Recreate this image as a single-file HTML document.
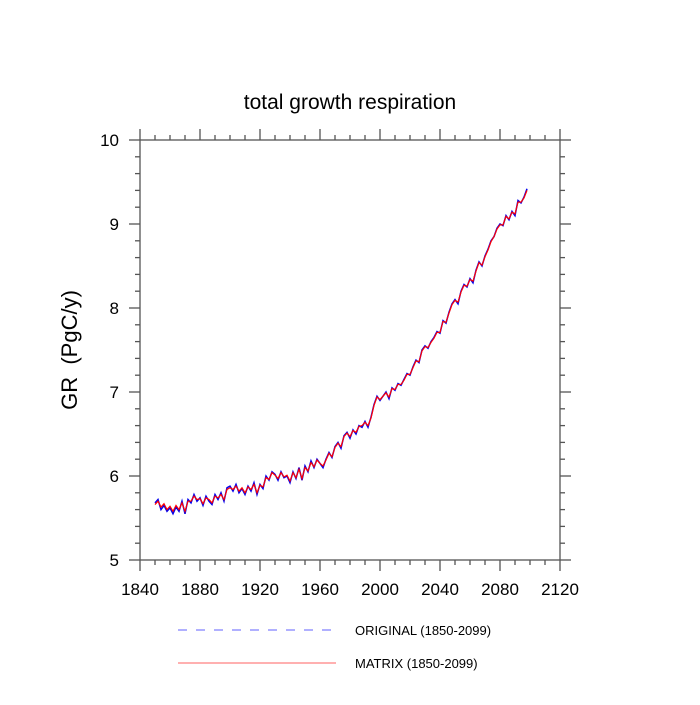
<!DOCTYPE html>
<html><head><meta charset="utf-8"><style>
body{margin:0;background:#fff;}
svg text{font-family:"Liberation Sans",Arial,sans-serif;fill:#000;}
</style></head><body>
<svg id="chart" width="700" height="700" xmlns="http://www.w3.org/2000/svg">
<text x="350" y="109" font-size="21" text-anchor="middle">total growth respiration</text>
<text x="0" y="0" font-size="22" text-anchor="middle" transform="translate(77,350) rotate(-90)">GR&#160; (PgC/y)</text>
<g id="axes"></g>
<g id="series"></g>
<g>
<line x1="178" y1="630" x2="336" y2="630" stroke="#6060ff" stroke-width="1" stroke-dasharray="9,9"/>
<text x="355" y="635" font-size="13">ORIGINAL (1850-2099)</text>
<line x1="178" y1="663" x2="336" y2="663" stroke="#ff6060" stroke-width="1"/>
<text x="355" y="668" font-size="13">MATRIX (1850-2099)</text>
</g>
</svg>
<script>
const xTicks=[1840,1880,1920,1960,2000,2040,2080,2120];
const yTicks=[5,6,7,8,9,10];
const original=[5.68,5.72,5.60,5.65,5.58,5.62,5.55,5.63,5.58,5.70,5.55,
5.72,5.68,5.78,5.70,5.74,5.65,5.76,5.70,5.66,5.78,5.72,5.80,5.70,5.86,
5.88,5.82,5.90,5.80,5.85,5.78,5.88,5.82,5.92,5.78,5.90,5.85,6.00,5.95,6.05,
6.02,5.95,6.05,5.98,6.00,5.92,6.05,5.97,6.10,5.95,6.12,6.05,6.18,6.10,6.20,
6.15,6.10,6.20,6.28,6.22,6.35,6.40,6.33,6.48,6.52,6.45,6.55,6.50,6.60,6.58,
6.65,6.58,6.70,6.85,6.95,6.90,6.95,7.00,6.92,7.05,7.02,7.10,7.08,7.15,7.22,
7.20,7.30,7.38,7.35,7.50,7.55,7.52,7.60,7.65,7.72,7.70,7.85,7.82,7.95,8.05,
8.10,8.05,8.20,8.28,8.25,8.35,8.30,8.45,8.55,8.50,8.62,8.70,8.80,8.85,8.95,
9.00,8.98,9.10,9.05,9.15,9.10,9.28,9.25,9.32,9.42];
const matrix=[5.66,5.70,5.63,5.67,5.60,5.64,5.58,5.65,5.60,5.68,5.58,
5.70,5.70,5.76,5.72,5.73,5.67,5.74,5.72,5.68,5.76,5.74,5.78,5.72,5.84,
5.86,5.84,5.88,5.82,5.86,5.80,5.87,5.84,5.90,5.80,5.89,5.87,5.98,5.96,6.04,
6.01,5.97,6.04,5.99,6.01,5.94,6.04,5.98,6.08,5.97,6.10,6.06,6.16,6.11,6.19,
6.15,6.12,6.19,6.27,6.23,6.34,6.39,6.35,6.47,6.51,6.47,6.54,6.52,6.59,6.60,
6.64,6.60,6.69,6.84,6.94,6.91,6.95,6.99,6.94,7.04,7.03,7.09,7.09,7.14,7.21,
7.21,7.29,7.37,7.36,7.49,7.54,7.53,7.59,7.64,7.71,7.71,7.84,7.83,7.94,8.04,
8.09,8.07,8.19,8.27,8.26,8.34,8.32,8.44,8.54,8.51,8.61,8.69,8.79,8.85,8.94,
8.99,8.99,9.09,9.06,9.14,9.12,9.26,9.26,9.31,9.40];
const startYear=1850, yearStep=2;
const X=v=>140+(v-1840)*420/280;
const Y=v=>560-(v-5)*84;
const NS="http://www.w3.org/2000/svg";
const axes=document.getElementById('axes');
function mk(tag,attrs,parent){const e=document.createElementNS(NS,tag);for(const k in attrs)e.setAttribute(k,attrs[k]);parent.appendChild(e);return e;}
const frame=mk('rect',{x:140,y:140,width:420,height:420,fill:'none',stroke:'#555','stroke-width':1.3},axes);


for(let v=1840;v<=2120;v+=10){
  const len=(v%40===0)?11:5;const x=X(v);
  mk('line',{x1:x,y1:560,x2:x,y2:560+len,stroke:'#555','stroke-width':1.3},axes);
  mk('line',{x1:x,y1:140,x2:x,y2:140-len,stroke:'#555','stroke-width':1.3},axes);
}
for(let i=0;i<=25;i++){
  const v=5+i*0.2;const len=(i%5===0)?11:5;const y=Y(v);
  mk('line',{x1:140,y1:y,x2:140-len,y2:y,stroke:'#555','stroke-width':1.3},axes);
  mk('line',{x1:560,y1:y,x2:560+len,y2:y,stroke:'#555','stroke-width':1.3},axes);
}
xTicks.forEach(v=>{const t=mk('text',{x:X(v),y:595,'font-size':17,'text-anchor':'middle'},axes);t.textContent=v;

});
yTicks.forEach(v=>{const t=mk('text',{x:119,y:Y(v)+6,'font-size':17,'text-anchor':'end'},axes);t.textContent=v;

});
const series=document.getElementById('series');
function pts(arr){return arr.map((v,i)=>X(startYear+i*yearStep)+','+Y(v)).join(' ');}
const lo=mk('polyline',{points:pts(original),fill:'none',stroke:'#0000ee','stroke-width':1.5},series);


const lm=mk('polyline',{points:pts(matrix),fill:'none',stroke:'#ff0000','stroke-width':1.2},series);


</script>
</body></html>
